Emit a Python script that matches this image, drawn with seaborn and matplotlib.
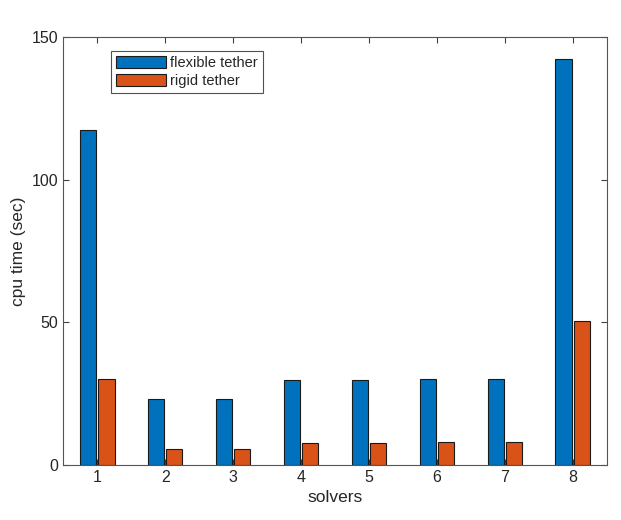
import matplotlib
matplotlib.use('Agg')
import matplotlib.pyplot as plt
import seaborn as sns
import pandas as pd

solvers = ['1', '2', '3', '4', '5', '6', '7', '8']
flexible = [117.4, 23.0, 23.0, 29.8, 29.8, 30.2, 30.2, 142.2]
rigid = [30.2, 5.6, 5.6, 7.6, 7.6, 7.9, 7.9, 50.5]
series = ['flexible tether', 'rigid tether']
colors = ['#0072BD', '#D95319']

df = pd.DataFrame({
    'solver': solvers * 2,
    'time': flexible + rigid,
    'kind': [series[0]] * len(solvers) + [series[1]] * len(solvers),
})

sns.set_style('white')
plt.rcParams['font.family'] = ['Liberation Sans', 'DejaVu Sans']

fig = plt.figure(figsize=(6.21, 5.2), dpi=100)
ax = fig.add_axes([0.102, 0.106, 0.875, 0.823])

sns.barplot(data=df, x='solver', y='time', hue='kind', palette=colors,
            saturation=1, width=0.535, gap=0.1, edgecolor='#1a1a1a',
            linewidth=0.8, ax=ax)

ax.set_xlim(-0.5, 7.5)
ax.set_ylim(0, 150)
ax.set_yticks([0, 50, 100, 150])
ax.set_xlabel('solvers', fontsize=12.5, color='#262626')
ax.set_ylabel('cpu time (sec)', fontsize=12.5, color='#262626')
ax.tick_params(direction='in', length=4, width=0.8, colors='#404040',
               labelcolor='#262626', labelsize=11.5,
               top=True, right=True, bottom=True, left=True)
for s in ax.spines.values():
    s.set_visible(True)
    s.set_color('#555555')
    s.set_linewidth(0.8)

leg = ax.legend(loc='upper left', bbox_to_anchor=(0.088, 0.968),
                fontsize=10.5, frameon=True, fancybox=False,
                edgecolor='#262626', handlelength=3.4, handleheight=0.95,
                handletextpad=0.3, borderpad=0.35, labelspacing=0.25,
                borderaxespad=0)
leg.get_frame().set_linewidth(0.8)

fig.savefig('out.png', dpi=100)
